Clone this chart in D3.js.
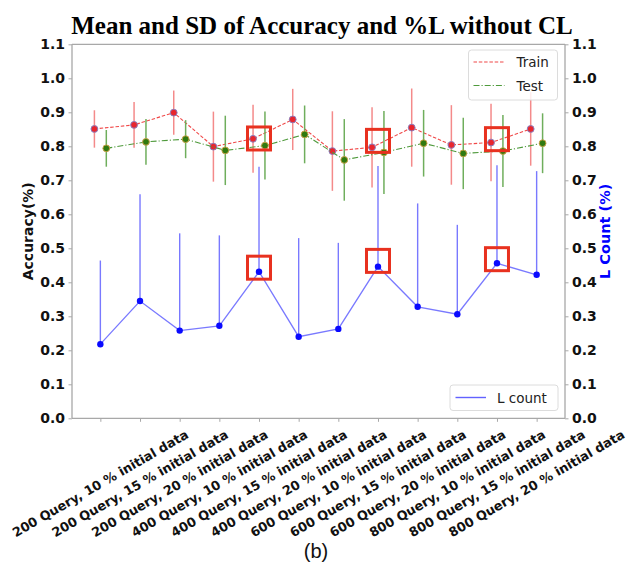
<!DOCTYPE html>
<html>
<head>
<meta charset="utf-8">
<script src="https://cdn.jsdelivr.net/npm/d3@7"></script>
<style>
  html, body { margin: 0; padding: 0; background: #fff; }
  svg { display: block; }
</style>
</head>
<body>
<svg id="chart" width="628" height="576"></svg>
<script>
// ---------------- data ----------------
const categories = [
  "200 Query, 10 % initial data", "200 Query, 15 % initial data", "200 Query, 20 % initial data",
  "400 Query, 10 % initial data", "400 Query, 15 % initial data", "400 Query, 20 % initial data",
  "600 Query, 10 % initial data", "600 Query, 15 % initial data", "600 Query, 20 % initial data",
  "800 Query, 10 % initial data", "800 Query, 15 % initial data", "800 Query, 20 % initial data"
];
const trainMean = [0.851, 0.863, 0.899, 0.799, 0.822, 0.879, 0.786, 0.797, 0.855, 0.804, 0.811, 0.851];
const trainSD   = [0.055, 0.067, 0.065, 0.103, 0.100, 0.090, 0.117, 0.118, 0.115, 0.117, 0.114, 0.108];
const testMean  = [0.794, 0.813, 0.821, 0.788, 0.802, 0.835, 0.760, 0.782, 0.809, 0.779, 0.786, 0.809];
const testSD    = [0.054, 0.067, 0.056, 0.102, 0.100, 0.085, 0.120, 0.122, 0.098, 0.105, 0.106, 0.088];
const lMean     = [0.218, 0.345, 0.258, 0.272, 0.431, 0.240, 0.263, 0.446, 0.328, 0.306, 0.456, 0.422];
const lSD       = [0.246, 0.314, 0.286, 0.266, 0.309, 0.290, 0.253, 0.296, 0.304, 0.263, 0.288, 0.305];
const yTicks    = [0.0, 0.1, 0.2, 0.3, 0.4, 0.5, 0.6, 0.7, 0.8, 0.9, 1.0, 1.1];
// highlighted runs (red boxes): index, accuracy-axis centre, L-axis centre
const highlightIdx = [4, 7, 10];
const highlightAcc = [0.823, 0.816, 0.821];
const highlightL   = [0.443, 0.463, 0.468];
const titleText = "Mean and SD of Accuracy and %L without CL";
const captionText = "(b)";

// ---------------- layout ----------------
const L = 72, R = 565, T = 44.3, B = 418.3;
const svg = d3.select("#chart");
const x = d3.scaleLinear().domain([-0.715, 11.715]).range([L, R]);
const yAcc = d3.scaleLinear().domain([0, 1.1]).range([B, T]);
const yL = d3.scaleLinear().domain([0, 1.1]).range([B, T]);
const off = 0.15;
const idx = d3.range(categories.length);

const tickFont = "'DejaVu Sans', sans-serif";
const axisColor = "#a8a8a8";

// axes
const gLeft = svg.append("g").attr("transform", `translate(${L},0)`)
  .call(d3.axisLeft(yAcc).tickValues(yTicks).tickFormat(d3.format(".1f")).tickSize(3.5).tickPadding(3.5));
const gRight = svg.append("g").attr("transform", `translate(${R},0)`)
  .call(d3.axisRight(yL).tickValues(yTicks).tickFormat(d3.format(".1f")).tickSize(3.5).tickPadding(3.5));
const gBottom = svg.append("g").attr("transform", `translate(0,${B})`)
  .call(d3.axisBottom(x).tickValues(idx).tickFormat(() => "").tickSize(3.5));
[gLeft, gRight, gBottom].forEach(g => {
  g.select(".domain").attr("stroke", axisColor).attr("stroke-width", 1.3);
  g.selectAll(".tick line").attr("stroke", axisColor).attr("stroke-width", 1);
  g.selectAll(".tick text").attr("fill", "#111").attr("font-family", tickFont)
    .attr("font-weight", "bold").attr("font-size", 14);
});
gLeft.select(".domain").attr("d", `M0,${T}V${B}`);
gRight.select(".domain").attr("d", `M0,${T}V${B}`);
gBottom.select(".domain").attr("d", `M${L},0H${R}`);
svg.append("line").attr("x1", L).attr("x2", R).attr("y1", T).attr("y2", T)
  .attr("stroke", axisColor).attr("stroke-width", 1.3);

// x tick labels rotated 30deg, bbox centred on tick
const xfs = 12.8;
const xlab = svg.append("g");
idx.forEach(i => {
  const t = xlab.append("text").text(categories[i])
    .attr("font-family", tickFont).attr("font-weight", "bold").attr("font-size", xfs)
    .attr("fill", "#111").attr("text-anchor", "middle").attr("dominant-baseline", "central");
  const len = t.node().getComputedTextLength();
  const h = xfs * 1.16;
  const H = len * 0.5 + h * 0.866;
  const cx = x(i), cy = B + 3.5 + 5 + H / 2;
  t.attr("transform", `translate(${cx},${cy}) rotate(-30)`);
});

// ---------------- L count (blue) ----------------
const blueLine = "#6262ff";
svg.append("g").selectAll("line").data(idx).join("line")
  .attr("x1", i => x(i)).attr("x2", i => x(i))
  .attr("y1", i => yL(lMean[i])).attr("y2", i => yL(lMean[i] + lSD[i]))
  .attr("stroke", blueLine).attr("stroke-width", 1.4).attr("opacity", 0.85);
svg.append("path").datum(idx)
  .attr("d", d3.line().x(i => x(i)).y(i => yL(lMean[i])))
  .attr("fill", "none").attr("stroke", blueLine).attr("stroke-width", 1.3).attr("opacity", 0.85);
svg.append("g").selectAll("circle").data(idx).join("circle")
  .attr("cx", i => x(i)).attr("cy", i => yL(lMean[i])).attr("r", 3.2)
  .attr("fill", "#0a0aff");

// ---------------- Train / Test ----------------
function series(mean, sd, dx, c) {
  const g = svg.append("g");
  g.selectAll("line").data(idx).join("line")
    .attr("x1", i => x(i + dx)).attr("x2", i => x(i + dx))
    .attr("y1", i => yAcc(mean[i] - sd[i])).attr("y2", i => yAcc(mean[i] + sd[i]))
    .attr("stroke", c.err).attr("stroke-width", 1.5);
  g.append("path").datum(idx)
    .attr("d", d3.line().x(i => x(i + dx)).y(i => yAcc(mean[i])))
    .attr("fill", "none").attr("stroke", c.line).attr("stroke-width", 1.1)
    .attr("stroke-dasharray", c.dash);
  g.selectAll("circle").data(idx).join("circle")
    .attr("cx", i => x(i + dx)).attr("cy", i => yAcc(mean[i])).attr("r", 3.4)
    .attr("fill", c.fill).attr("stroke", c.edge).attr("stroke-width", 1);
}
series(trainMean, trainSD, -off, {err: "#f48a8a", line: "#f04848", dash: "3.5,1.8", fill: "#e8262e", edge: "#8a7fc0"});
series(testMean, testSD, off, {err: "#6fae5c", line: "#4f9a3c", dash: "6,2,1.2,2", fill: "#2f7a10", edge: "#c8a046"});

// ---------------- highlight boxes ----------------
const bs = 23;
highlightIdx.forEach((i, k) => {
  [yAcc(highlightAcc[k]), yL(highlightL[k])].forEach(cy => {
    svg.append("rect").attr("x", x(i) - bs / 2).attr("y", cy - bs / 2)
      .attr("width", bs).attr("height", bs)
      .attr("fill", "none").attr("stroke", "#e8311f").attr("stroke-width", 3);
  });
});

// ---------------- legends ----------------
const legFont = "'DejaVu Sans', sans-serif";
function legendBox(x0, y0, w, h) {
  svg.append("rect").attr("x", x0).attr("y", y0).attr("width", w).attr("height", h)
    .attr("rx", 3).attr("fill", "#fff").attr("fill-opacity", 0.85)
    .attr("stroke", "#dcdcdc").attr("stroke-width", 1);
}
legendBox(468.5, 50, 89, 50);
svg.append("line").attr("x1", 473.5).attr("x2", 504.5).attr("y1", 62).attr("y2", 62)
  .attr("stroke", "#f04848").attr("stroke-width", 1.1).attr("stroke-dasharray", "3.5,1.8");
svg.append("text").attr("x", 516.5).attr("y", 62).attr("dominant-baseline", "central")
  .attr("font-family", legFont).attr("font-size", 13.5).attr("fill", "#222").text("Train");
svg.append("line").attr("x1", 473.5).attr("x2", 504.5).attr("y1", 85.5).attr("y2", 85.5)
  .attr("stroke", "#4f9a3c").attr("stroke-width", 1.1).attr("stroke-dasharray", "6,2,1.2,2");
svg.append("text").attr("x", 516.5).attr("y", 85.5).attr("dominant-baseline", "central")
  .attr("font-family", legFont).attr("font-size", 13.5).attr("fill", "#222").text("Test");

legendBox(450, 385, 108, 25.5);
svg.append("line").attr("x1", 455.5).attr("x2", 486).attr("y1", 397.5).attr("y2", 397.5)
  .attr("stroke", blueLine).attr("stroke-width", 1.4);
svg.append("text").attr("x", 497).attr("y", 397.5).attr("dominant-baseline", "central")
  .attr("font-family", legFont).attr("font-size", 13.5).attr("fill", "#222").text("L count");

// ---------------- axis titles, title, caption ----------------
svg.append("text").attr("transform", `translate(28,${(T + B) / 2}) rotate(-90)`)
  .attr("text-anchor", "middle").attr("dominant-baseline", "central")
  .attr("font-family", tickFont).attr("font-weight", "bold").attr("font-size", 14)
  .attr("fill", "#111").text("Accuracy(%)");
svg.append("text").attr("transform", `translate(605,${(T + B) / 2}) rotate(-90)`)
  .attr("text-anchor", "middle").attr("dominant-baseline", "central")
  .attr("font-family", tickFont).attr("font-weight", "bold").attr("font-size", 14.5)
  .attr("fill", "#0000ff").text("L Count (%)");
svg.append("text").attr("x", 322).attr("y", 34).attr("text-anchor", "middle")
  .attr("font-family", "'Liberation Serif', 'Times New Roman', serif").attr("font-weight", "bold")
  .attr("font-size", 25).attr("fill", "#000").text(titleText);
svg.append("text").attr("x", 316).attr("y", 558).attr("text-anchor", "middle")
  .attr("font-family", "'Liberation Sans', Arial, sans-serif")
  .attr("font-size", 20).attr("fill", "#111").text(captionText);
</script>
</body>
</html>
